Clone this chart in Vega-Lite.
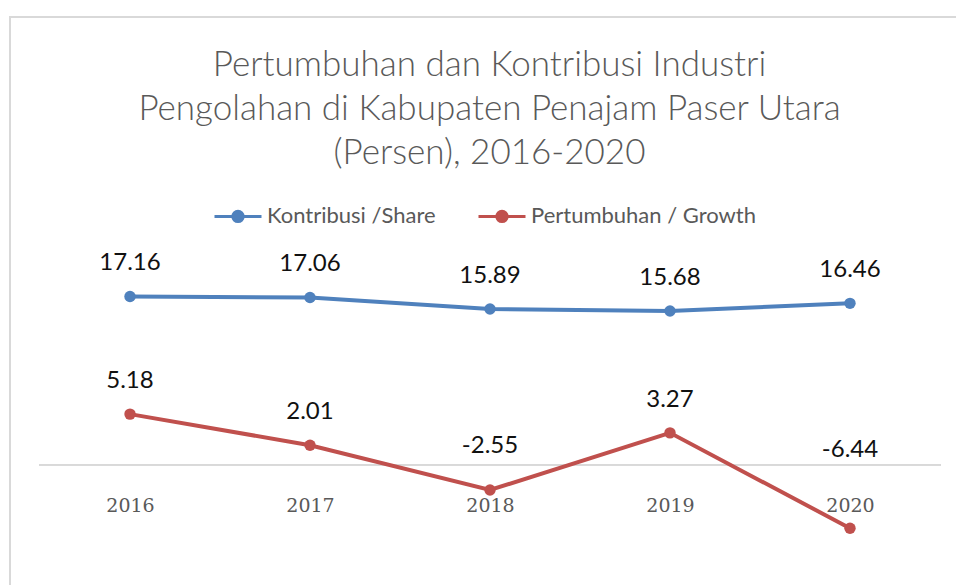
{
  "$schema": "https://vega.github.io/schema/vega-lite/v6.json",
  "autosize": "none",
  "width": 949,
  "height": 571,
  "padding": {"left": 10, "top": 17, "right": -3, "bottom": -3},
  "background": "white",
  "title": {
    "text": ["Pertumbuhan dan Kontribusi Industri", "Pengolahan di Kabupaten Penajam Paser Utara", "(Persen), 2016-2020"],
    "font": "Lato",
    "fontSize": 35,
    "fontWeight": 300,
    "color": "#595959",
    "lineHeight": 44,
    "anchor": "middle",
    "dx": 5,
    "offset": -154
  },
  "config": {
    "view": {"stroke": "#d9d9d9", "strokeWidth": 2},
    "legend": {"labelFont": "Lato", "labelFontSize": 22, "labelColor": "#595959", "labelLimit": 400}
  },
  "data": {
    "values": [
      {"year": 2016, "series": "Kontribusi /Share", "value": 17.16},
      {"year": 2017, "series": "Kontribusi /Share", "value": 17.06},
      {"year": 2018, "series": "Kontribusi /Share", "value": 15.89},
      {"year": 2019, "series": "Kontribusi /Share", "value": 15.68},
      {"year": 2020, "series": "Kontribusi /Share", "value": 16.46},
      {"year": 2016, "series": "Pertumbuhan / Growth", "value": 5.18},
      {"year": 2017, "series": "Pertumbuhan / Growth", "value": 2.01},
      {"year": 2018, "series": "Pertumbuhan / Growth", "value": -2.55},
      {"year": 2019, "series": "Pertumbuhan / Growth", "value": 3.27},
      {"year": 2020, "series": "Pertumbuhan / Growth", "value": -6.44}
    ]
  },
  "encoding": {
    "x": {
      "field": "year",
      "type": "quantitative",
      "scale": {"domain": [2015.3333, 2020.6056], "nice": false, "zero": false},
      "axis": {
        "orient": "bottom",
        "offset": -83,
        "values": [2016, 2017, 2018, 2019, 2020],
        "format": "d",
        "domain": false,
        "ticks": false,
        "grid": false,
        "labelPadding": 0,
        "labelBaseline": "middle",
        "labelFont": "DejaVu Serif",
        "labelFontSize": 19,
        "labelColor": "#595959",
        "title": null
      }
    },
    "y": {
      "field": "value",
      "type": "quantitative",
      "scale": {"domain": [-12.53, 45.62], "nice": false, "zero": false},
      "axis": null
    }
  },
  "layer": [
    {
      "mark": {"type": "rule", "color": "#d9d9d9", "strokeWidth": 1.2},
      "encoding": {
        "x": {"datum": 2015.495},
        "x2": {"datum": 2020.505},
        "y": {"datum": 0}
      }
    },
    {
      "mark": {"type": "line", "strokeWidth": 4},
      "encoding": {
        "color": {
          "field": "series",
          "type": "nominal",
          "scale": {"domain": ["Kontribusi /Share", "Pertumbuhan / Growth"], "range": ["#4F81BD", "#C0504D"]},
          "legend": {
            "orient": "none",
            "direction": "horizontal",
            "legendX": 203,
            "legendY": 174,
            "title": null,
            "symbolType": "M-1,0L1,0M0.22,0A0.22,0.22,0,1,1,-0.22,0A0.22,0.22,0,1,1,0.22,0Z",
            "symbolSize": 2209,
            "symbolStrokeWidth": 3,
            "labelOffset": 4,
            "columnPadding": 36,
            "encode": {
              "symbols": {
                "update": {
                  "fill": {"scale": "color", "field": "value"},
                  "stroke": {"scale": "color", "field": "value"},
                  "strokeWidth": {"value": 3},
                  "opacity": {"value": 1}
                }
              }
            }
          }
        }
      }
    },
    {
      "mark": {"type": "point", "filled": true, "size": 130, "opacity": 1},
      "encoding": {
        "color": {"field": "series", "type": "nominal"}
      }
    },
    {
      "transform": [{"filter": "!(datum.series == 'Pertumbuhan / Growth' && (datum.year == 2018 || datum.year == 2020))"}],
      "mark": {"type": "text", "dy": -26, "baseline": "alphabetic", "font": "Lato", "fontSize": 24, "color": "#111111"},
      "encoding": {"text": {"field": "value", "type": "nominal"}}
    },
    {
      "transform": [{"filter": "datum.series == 'Pertumbuhan / Growth' && datum.year == 2018"}],
      "mark": {"type": "text", "dy": -37, "baseline": "alphabetic", "font": "Lato", "fontSize": 24, "color": "#111111"},
      "encoding": {"text": {"field": "value", "type": "nominal"}}
    },
    {
      "transform": [{"filter": "datum.series == 'Pertumbuhan / Growth' && datum.year == 2020"}],
      "mark": {"type": "text", "dy": -71, "baseline": "alphabetic", "font": "Lato", "fontSize": 24, "color": "#111111"},
      "encoding": {"text": {"field": "value", "type": "nominal"}}
    }
  ]
}
